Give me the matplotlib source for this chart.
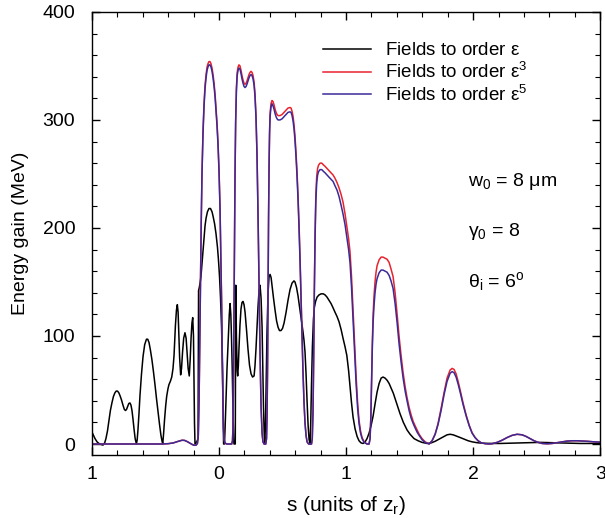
import matplotlib
matplotlib.use("Agg")
import matplotlib.pyplot as plt
from matplotlib.ticker import MultipleLocator

plt.rcParams['font.family'] = ['Liberation Sans', 'DejaVu Sans']
plt.rcParams['mathtext.fontset'] = 'custom'
plt.rcParams['mathtext.rm'] = 'Liberation Sans'
plt.rcParams['mathtext.it'] = 'Liberation Sans:italic'

# energy gain vs s, fields to order eps
s_eps1 = [-1.000, -0.988, -0.976, -0.960, -0.945, -0.929, -0.913, -0.900, -0.890, -0.878,
          -0.866, -0.855, -0.843, -0.831, -0.819, -0.809, -0.799, -0.789, -0.780, -0.768,
          -0.756, -0.745, -0.736, -0.728, -0.720, -0.710, -0.701, -0.693, -0.685, -0.677,
          -0.669, -0.660, -0.650, -0.644, -0.638, -0.630, -0.622, -0.610, -0.598, -0.585,
          -0.571, -0.561, -0.551, -0.540, -0.528, -0.516, -0.504, -0.492, -0.480, -0.468,
          -0.457, -0.449, -0.443, -0.436, -0.429, -0.420, -0.412, -0.402, -0.394, -0.383,
          -0.372, -0.362, -0.354, -0.348, -0.343, -0.335, -0.328, -0.322, -0.317, -0.310,
          -0.302, -0.295, -0.287, -0.278, -0.268, -0.259, -0.252, -0.243, -0.234, -0.227,
          -0.220, -0.213, -0.207, -0.201, -0.197, -0.193, -0.189, -0.175, -0.165, -0.161,
          -0.155, -0.148, -0.142, -0.134, -0.126, -0.118, -0.110, -0.102, -0.091, -0.079,
          -0.067, -0.055, -0.047, -0.035, -0.024, -0.012, -0.004, 0.004, 0.012, 0.020,
          0.028, 0.033, 0.036, 0.043, 0.048, 0.055, 0.063, 0.070, 0.075, 0.081,
          0.087, 0.093, 0.098, 0.104, 0.110, 0.115, 0.118, 0.128, 0.132, 0.137,
          0.143, 0.147, 0.152, 0.157, 0.165, 0.173, 0.181, 0.189, 0.197, 0.205,
          0.217, 0.228, 0.240, 0.252, 0.264, 0.276, 0.283, 0.291, 0.299, 0.307,
          0.315, 0.323, 0.331, 0.339, 0.345, 0.350, 0.356, 0.361, 0.366, 0.370,
          0.378, 0.386, 0.394, 0.402, 0.410, 0.417, 0.429, 0.441, 0.453, 0.465,
          0.476, 0.488, 0.500, 0.512, 0.528, 0.543, 0.559, 0.575, 0.590, 0.598,
          0.610, 0.622, 0.634, 0.646, 0.654, 0.661, 0.669, 0.677, 0.685, 0.693,
          0.701, 0.709, 0.717, 0.722, 0.728, 0.735, 0.743, 0.750, 0.760, 0.772,
          0.787, 0.803, 0.821, 0.835, 0.850, 0.866, 0.882, 0.898, 0.913, 0.929,
          0.945, 0.961, 0.976, 0.992, 1.006, 1.020, 1.031, 1.043, 1.055, 1.071,
          1.087, 1.102, 1.118, 1.134, 1.150, 1.165, 1.181, 1.197, 1.213, 1.228,
          1.244, 1.260, 1.276, 1.291, 1.307, 1.323, 1.339, 1.354, 1.372, 1.386,
          1.402, 1.425, 1.451, 1.480, 1.504, 1.535, 1.567, 1.598, 1.638, 1.669,
          1.701, 1.732, 1.764, 1.795, 1.819, 1.843, 1.866, 1.898, 1.929, 1.961,
          1.992, 2.031, 2.079, 2.150, 2.213, 2.290, 2.370, 2.450, 2.528, 2.600,
          2.685, 2.764, 2.843, 2.920, 3.000]
e_eps1 = [11, 8, 5, 2, 0.5, -0.5, -1, 1, 5, 12,
          22, 31, 38, 44, 47.5, 49, 49, 47.5, 45, 41,
          36, 32, 31, 32, 34.5, 37.5, 38, 36, 31, 23,
          14, 5, 0, 4, 13, 28, 45, 65, 81, 92,
          97, 97, 94, 87, 78, 67, 55, 42, 30, 18,
          8, 3, 0, 10, 22, 35, 44, 51, 55, 58,
          62, 70, 82, 98, 110, 124, 129, 122, 105, 80,
          64, 70, 85, 98, 103, 98, 86, 70, 63, 78,
          98, 112, 117, 100, 60, 20, 0, 2, 5, 142,
          145, 150, 155, 167, 180, 192, 202, 209, 215, 218,
          218, 215, 211, 204, 195, 182, 170, 155, 135, 108,
          65, 20, 0, 0, 15, 40, 70, 90, 102, 120,
          130, 120, 100, 70, 30, 5, 0, 0, 147, 100,
          68, 63, 72, 88, 110, 125, 131, 132, 129, 122,
          105, 88, 73, 65, 62, 63, 72, 88, 108, 127,
          142, 147, 135, 108, 70, 35, 8, 0, 20, 50,
          105, 140, 155, 157, 154, 147, 135, 124, 114, 108,
          105, 105, 107, 112, 122, 133, 143, 149, 151, 150,
          145, 137, 127, 117, 110, 104, 96, 85, 65, 40,
          18, 4, 0, 20, 55, 90, 115, 126, 132, 136,
          138, 139, 139, 138, 136, 133, 130, 126, 122, 118,
          113, 106, 98, 90, 82, 68, 54, 38, 25, 14,
          7, 3, 1, 0.5, 2, 5, 10, 17, 26, 37,
          48, 56, 61, 62, 61, 59, 56, 52, 47, 42,
          36, 28, 20, 13, 9, 5, 3, 1.5, 0.5, 1,
          2.5, 4.5, 6.5, 8.5, 9, 8.5, 7.5, 6, 4.5, 3,
          2, 1.2, 0.7, 0.5, 0.5, 0.7, 1, 1.3, 1.5, 1.3,
          1, 0.7, 0.5, 0.5, 0.5]

# fields to order eps^3 and eps^5 share the same s grid
s_hi = [-1.000, -0.600, -0.450, -0.400, -0.360, -0.320, -0.290, -0.270, -0.250, -0.230,
        -0.210, -0.195, -0.180, -0.170, -0.163, -0.157, -0.152, -0.146, -0.140, -0.134,
        -0.126, -0.118, -0.110, -0.102, -0.094, -0.087, -0.079, -0.071, -0.063, -0.055,
        -0.047, -0.039, -0.031, -0.024, -0.016, -0.008, 0.000, 0.008, 0.014, 0.020,
        0.025, 0.030, 0.035, 0.040, 0.047, 0.060, 0.100, 0.106, 0.110, 0.114,
        0.118, 0.122, 0.126, 0.131, 0.137, 0.143, 0.150, 0.157, 0.165, 0.173,
        0.181, 0.189, 0.197, 0.205, 0.213, 0.220, 0.228, 0.236, 0.244, 0.252,
        0.260, 0.268, 0.276, 0.283, 0.291, 0.299, 0.307, 0.315, 0.323, 0.331,
        0.339, 0.346, 0.355, 0.368, 0.374, 0.378, 0.382, 0.386, 0.390, 0.394,
        0.398, 0.402, 0.409, 0.417, 0.425, 0.433, 0.441, 0.449, 0.457, 0.465,
        0.480, 0.496, 0.512, 0.528, 0.543, 0.559, 0.567, 0.575, 0.583, 0.591,
        0.598, 0.606, 0.614, 0.622, 0.630, 0.638, 0.646, 0.654, 0.661, 0.669,
        0.677, 0.685, 0.693, 0.705, 0.728, 0.734, 0.740, 0.745, 0.750, 0.756,
        0.762, 0.769, 0.776, 0.783, 0.795, 0.809, 0.821, 0.835, 0.850, 0.866,
        0.882, 0.898, 0.913, 0.929, 0.945, 0.961, 0.976, 0.992, 1.008, 1.020,
        1.031, 1.043, 1.055, 1.067, 1.079, 1.091, 1.102, 1.114, 1.126, 1.142,
        1.165, 1.181, 1.189, 1.195, 1.201, 1.207, 1.213, 1.220, 1.228, 1.236,
        1.244, 1.260, 1.276, 1.291, 1.307, 1.323, 1.339, 1.354, 1.370, 1.386,
        1.402, 1.417, 1.433, 1.449, 1.465, 1.480, 1.496, 1.512, 1.528, 1.543,
        1.559, 1.575, 1.598, 1.622, 1.654, 1.677, 1.701, 1.724, 1.748, 1.772,
        1.795, 1.819, 1.835, 1.850, 1.866, 1.882, 1.898, 1.921, 1.945, 1.969,
        1.992, 2.016, 2.039, 2.063, 2.094, 2.126, 2.150, 2.189, 2.228, 2.268,
        2.307, 2.346, 2.386, 2.417, 2.449, 2.480, 2.512, 2.543, 2.583, 2.622,
        2.661, 2.700, 2.740, 2.780, 2.820, 2.860, 2.900, 2.950, 3.000]
e_eps3 = [0, 0, 0, 0.3, 1, 2.5, 3.5, 3.3, 2.2, 0.8,
          -0.5, -1.2, -1, 0.5, 8, 40, 90, 150, 205, 250,
          290, 315, 332, 342, 349, 352, 354, 354, 352, 348,
          342, 334, 324, 312, 298, 280, 255, 220, 180, 135,
          90, 45, 15, 4, 1, 0, 0, 3, 15, 60,
          120, 190, 250, 300, 330, 344, 349, 351, 350, 346,
          341, 337, 334, 333, 334, 336, 339, 342, 344, 345,
          344, 341, 335, 325, 305, 270, 215, 150, 85, 35,
          10, 2, 0, 0, 5, 25, 70, 140, 210, 260,
          290, 306, 315, 318, 317, 314, 310, 307, 305, 304,
          304, 305, 307, 309, 311, 311.5, 311, 308, 303, 295,
          285, 270, 252, 230, 203, 172, 135, 100, 68, 40,
          20, 8, 2, 0, 0, 5, 30, 80, 140, 195,
          230, 248, 255, 258, 260, 260, 258.5, 257, 255, 253,
          251, 249, 246, 242, 237, 231, 224, 213, 200, 190,
          178, 155, 125, 93, 63, 38, 22, 12, 6, 2,
          0, 0, 5, 25, 60, 95, 120, 137, 150, 159,
          165, 170.5, 173, 173, 172, 171, 168, 162, 155, 140,
          120, 100, 82, 66, 53, 43, 34, 27, 21, 17,
          13, 9, 5, 2, 0, 3, 9, 19, 33, 48,
          61, 68.5, 70, 69, 65, 58, 50, 38, 27, 17.5,
          10.5, 6, 3, 1.2, 0.3, 0, 0.3, 1.5, 3.5, 6,
          8, 9, 8.5, 7, 5, 3, 1.5, 0.5, 0.2, 0.5,
          1.2, 2, 2.7, 3, 3, 2.8, 2.5, 2, 1.7]
e_eps5 = [0, 0, 0, 0.3, 1, 2.5, 3.5, 3.3, 2.2, 0.8,
          -0.5, -1.2, -1, 0.5, 8, 40, 90, 150, 205, 250,
          287, 312, 329, 339, 346, 349, 351, 351, 349, 345,
          339, 331, 321, 309, 295, 277, 252, 217, 177, 133,
          88, 44, 15, 4, 1, 0, 0, 3, 15, 60,
          120, 190, 248, 297, 327, 341, 346, 348, 347, 343,
          338, 334, 331, 330, 331, 333, 336, 339, 341, 342,
          341, 338, 332, 322, 302, 267, 212, 147, 83, 34,
          10, 2, 0, 0, 5, 25, 70, 140, 208, 257,
          287, 303, 312, 315, 313, 310, 306, 303, 301, 300,
          300, 301, 303, 305, 307, 307.5, 307, 304, 299, 291,
          281, 266, 248, 226, 199, 168, 131, 97, 66, 38,
          19, 8, 2, 0, 0, 5, 30, 78, 137, 190,
          224, 242, 249, 252, 254, 254, 252.5, 251, 249, 247,
          245, 243, 239, 235, 229, 221, 213, 203, 190, 180,
          168, 145, 115, 84, 56, 33, 19, 10, 5, 1.5,
          0, 0, 5, 24, 57, 90, 113, 128, 140, 148,
          153, 158.5, 161, 161, 160, 159, 156, 151, 144, 130,
          112, 93, 76, 61, 49, 40, 31, 24, 19, 15,
          11, 8, 4, 1.5, 0, 3, 9, 18, 31, 46,
          58, 65.5, 67, 66, 62, 55.5, 48, 36.5, 26, 17,
          10, 5.8, 3, 1.2, 0.3, 0, 0.3, 1.5, 3.5, 6,
          8, 9, 8.5, 7, 5, 3, 1.5, 0.5, 0.2, 0.5,
          1.2, 2, 2.7, 3, 3, 2.8, 2.5, 2, 1.7]

x_ticks = [-1, 0, 1, 2, 3]
x_tick_labels = ['1', '0', '1', '2', '3']
y_ticks = [0, 100, 200, 300, 400]

fig = plt.figure(figsize=(6.05, 5.18), dpi=100)
ax = fig.add_axes([0.152, 0.122, 0.840, 0.855])

ax.plot(s_eps1, e_eps1, color='black', lw=1.1, label=r'Fields to order $\mathrm{ε}$')
ax.plot(s_hi, e_eps3, color='#e8232d', lw=1.1, label=r'Fields to order $\mathrm{ε}^{3}$')
ax.plot(s_hi, e_eps5, color='#3a2a98', lw=1.1, label=r'Fields to order $\mathrm{ε}^{5}$')

ax.set_xlim(-1, 3)
ax.set_ylim(-10, 400)
ax.set_xticks(x_ticks)
ax.set_xticklabels(x_tick_labels)
ax.set_yticks(y_ticks)
ax.xaxis.set_minor_locator(MultipleLocator(0.2))
ax.yaxis.set_minor_locator(MultipleLocator(20))
ax.tick_params(which='both', direction='in', top=True, right=True, labelsize=14)
ax.tick_params(which='major', length=6, width=1.0)
ax.tick_params(which='minor', length=3.5, width=0.8)
ax.tick_params(axis='x', pad=8)
ax.tick_params(axis='y', pad=12)
for sp in ax.spines.values():
    sp.set_linewidth(1.0)

ax.set_xlabel(r's (units of z$_\mathrm{r}$)', fontsize=15, labelpad=8)
ax.set_ylabel('Energy gain (MeV)', fontsize=14, labelpad=10)

leg = ax.legend(loc='upper left', bbox_to_anchor=(0.454, 0.932), frameon=False,
                borderpad=0, borderaxespad=0, fontsize=13.5, handlelength=2.6,
                handletextpad=0.71, labelspacing=0.15)

ax.text(1.961, 243, r'w$_0$ = 8 μm', fontsize=14, va='center')
ax.text(1.961, 197, r'γ$_0$ = 8', fontsize=14, va='center')
ax.text(1.961, 150, r'θ$_\mathrm{i}$ = 6$^\mathrm{o}$', fontsize=14, va='center')

fig.savefig('out.png', dpi=100)
